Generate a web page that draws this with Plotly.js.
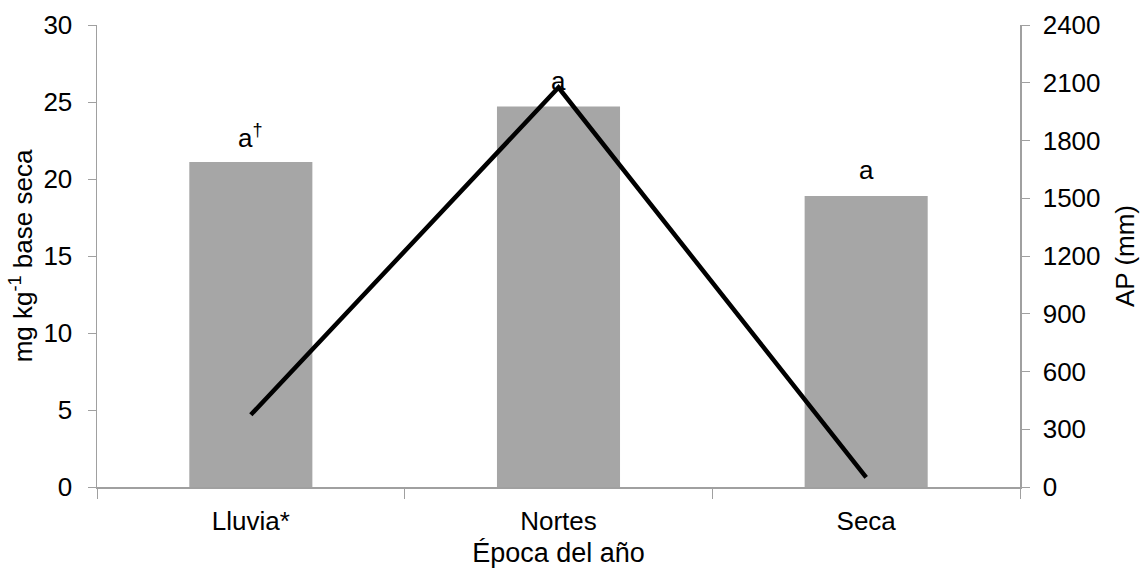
<!DOCTYPE html>
<html>
<head>
<meta charset="utf-8">
<script src="https://cdn.plot.ly/plotly-3.0.1.min.js"></script>
<style>html,body{margin:0;padding:0;background:#fff;}#chart{width:1142px;height:569px;}</style>
</head>
<body>
<div id="chart"></div>
<script>
const categories = ["Lluvia*", "Nortes", "Seca"];
const concentration = [21.1, 24.7, 18.9];
const precipitation = [375, 2075, 50];
const letters = ["a<sup>†</sup>", "a", "a"];
const leftTicks = [0, 5, 10, 15, 20, 25, 30];
const rightTicks = [0, 300, 600, 900, 1200, 1500, 1800, 2100, 2400];

const font = "Liberation Sans, Arial, sans-serif";

const traces = [
  {
    type: "bar",
    x: categories,
    y: concentration,
    marker: {color: "#a6a6a6"},
    yaxis: "y"
  },
  {
    type: "scatter",
    mode: "lines",
    x: categories,
    y: precipitation,
    yaxis: "y2",
    line: {color: "#000000", width: 4.5}
  }
];

const annotations = categories.map((c, i) => ({
  x: c, y: concentration[i], xref: "x", yref: "y",
  text: letters[i], showarrow: false,
  yanchor: "middle", yshift: 26,
  font: {family: font, size: 26, color: "#000"}
}));

const layout = {
  width: 1142, height: 569,
  margin: {l: 97, r: 122, t: 25, b: 82},
  paper_bgcolor: "#fff", plot_bgcolor: "#fff",
  showlegend: false,
  bargap: 0.6,
  font: {family: font, size: 26, color: "#000"},
  xaxis: {
    type: "category",
    showline: true, linecolor: "#a0a0a0", linewidth: 1.5,
    ticks: "outside", tickson: "boundaries", ticklen: 10, tickcolor: "#a0a0a0",
    tickfont: {family: font, size: 26},
    ticklabelstandoff: 10,
    title: {text: "Época del año", font: {family: font, size: 27}, standoff: 8},
    showgrid: false, zeroline: false
  },
  yaxis: {
    range: [0, 30], tickvals: leftTicks,
    showline: true, linecolor: "#a0a0a0", linewidth: 1.5,
    ticks: "outside", ticklen: 8, tickcolor: "#a0a0a0",
    tickfont: {family: font, size: 26},
    ticklabelstandoff: 10,
    title: {text: "mg kg<sup>-1</sup> base seca", font: {family: font, size: 26}, standoff: 3},
    showgrid: false, zeroline: false
  },
  yaxis2: {
    range: [0, 2400], tickvals: rightTicks,
    overlaying: "y", side: "right",
    showline: true, linecolor: "#a0a0a0", linewidth: 1.5,
    ticks: "outside", ticklen: 8, tickcolor: "#a0a0a0",
    tickfont: {family: font, size: 26},
    ticklabelstandoff: 8,
    title: {text: "AP (mm)", font: {family: font, size: 26}, standoff: 16},
    showgrid: false, zeroline: false
  },
  annotations: annotations
};

Plotly.newPlot("chart", traces, layout, {staticPlot: true});
</script>
</body>
</html>
